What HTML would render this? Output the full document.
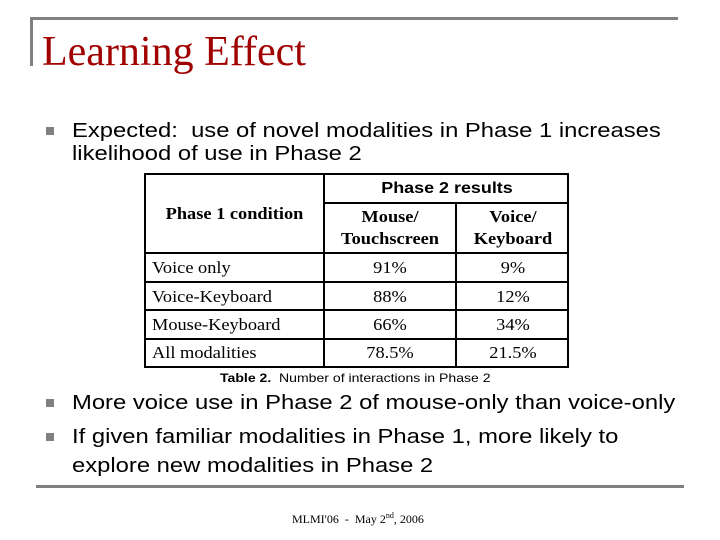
<!DOCTYPE html>
<html><head><meta charset="utf-8"><style>
body{margin:0;width:720px;height:540px;background:#fff;position:relative;overflow:hidden}
div{position:absolute}
.sans{font-family:"Liberation Sans",Arial,sans-serif}
.serif{font-family:"Liberation Serif","Times New Roman",serif}
.bul{width:8px;height:8px;background:#808080}
.t{font-family:"Liberation Serif",serif;font-size:17px;color:#000;transform:scaleX(1.08);transform-origin:left top}
.c{text-align:center;transform-origin:center top}
.b{font-weight:bold}
.wide{transform:scaleX(1.19);transform-origin:left top}
</style></head><body>
<div style="left:30px;top:17px;width:648px;height:3px;background:#808080"></div>
<div style="left:30px;top:17px;width:3px;height:49px;background:#808080"></div>
<div style="left:36px;top:485px;width:648px;height:3px;background:#808080"></div>
<div class="serif" style="left:42px;top:28px;font-size:42px;color:#a00000;line-height:48px">Learning Effect</div>

<div class="bul" style="left:46px;top:127px"></div>
<div class="sans wide" style="left:72px;top:120px;font-size:20px;line-height:23px;width:505px">Expected:&nbsp; use of novel modalities in Phase 1 increases likelihood of use in Phase 2</div>

<div style="left:144px;top:173px;width:421px;height:191px;border:2px solid #000"></div>
<div style="left:323px;top:173px;width:2px;height:195px;background:#000"></div>
<div style="left:455px;top:203px;width:2px;height:165px;background:#000"></div>
<div style="left:323px;top:202px;width:246px;height:2px;background:#000"></div>
<div style="left:144px;top:252px;width:425px;height:2px;background:#000"></div>
<div style="left:144px;top:281px;width:425px;height:2px;background:#000"></div>
<div style="left:144px;top:309px;width:425px;height:2px;background:#000"></div>
<div style="left:144px;top:338px;width:425px;height:2px;background:#000"></div>

<div class="sans b c" style="left:325px;top:180px;width:244px;font-size:16px;transform:scaleX(1.12)">Phase 2 results</div>
<div class="t b c" style="left:146px;top:204px;width:177px">Phase 1 condition</div>
<div class="t b c" style="left:325px;top:206px;width:130px;line-height:22px">Mouse/<br>Touchscreen</div>
<div class="t b c" style="left:457px;top:206px;width:112px;line-height:22px">Voice/<br>Keyboard</div>

<div class="t" style="left:152px;top:258px">Voice only</div>
<div class="t c" style="left:325px;top:258px;width:130px">91%</div>
<div class="t c" style="left:457px;top:258px;width:112px">9%</div>
<div class="t" style="left:152px;top:287px">Voice-Keyboard</div>
<div class="t c" style="left:325px;top:287px;width:130px">88%</div>
<div class="t c" style="left:457px;top:287px;width:112px">12%</div>
<div class="t" style="left:152px;top:315px">Mouse-Keyboard</div>
<div class="t c" style="left:325px;top:315px;width:130px">66%</div>
<div class="t c" style="left:457px;top:315px;width:112px">34%</div>
<div class="t" style="left:152px;top:343px">All modalities</div>
<div class="t c" style="left:325px;top:343px;width:130px">78.5%</div>
<div class="t c" style="left:457px;top:343px;width:112px">21.5%</div>

<div class="sans" style="left:220px;top:371px;font-size:12px;transform:scaleX(1.17);transform-origin:left top"><b>Table 2.</b>&nbsp; Number of interactions in Phase 2</div>

<div class="bul" style="left:46px;top:399px"></div>
<div class="sans wide" style="left:72px;top:389px;font-size:20px;line-height:29px;white-space:nowrap">More voice use in Phase 2 of mouse-only than voice-only</div>
<div class="bul" style="left:46px;top:433px"></div>
<div class="sans wide" style="left:72px;top:423px;font-size:20px;line-height:29px;width:490px">If given familiar modalities in Phase 1, more likely to explore new modalities in Phase 2</div>

<div class="serif" style="left:292px;top:511px;font-size:12px">MLMI'06&nbsp; -&nbsp; May 2<sup style="font-size:8px">nd</sup>, 2006</div>
</body></html>
